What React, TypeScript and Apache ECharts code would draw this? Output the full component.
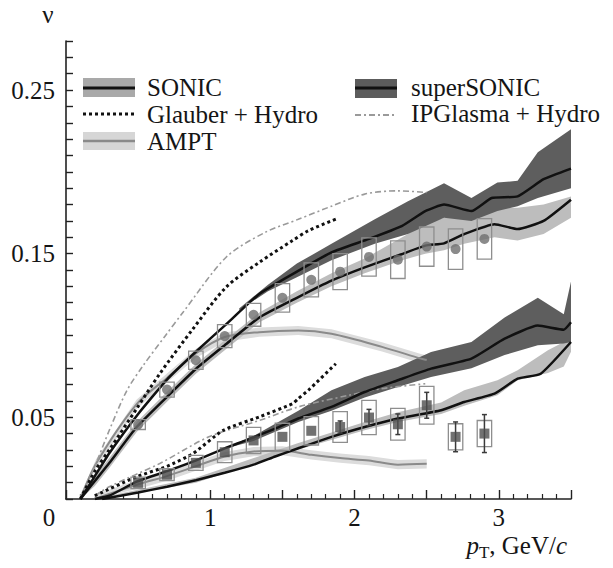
import React, { useEffect, useRef } from "react";
import * as echarts from "echarts";

const FONT = "'Liberation Serif', 'Times New Roman', serif";

// ---- Experimental points ----
const ptData = [0.5, 0.7, 0.9, 1.1, 1.3, 1.5, 1.7, 1.9, 2.1, 2.3, 2.5, 2.7, 2.9];
const v2Data = [0.0455, 0.0669, 0.0848, 0.0996, 0.1126, 0.123, 0.134, 0.139, 0.148, 0.1463, 0.1543, 0.1528, 0.159];
const v2Sys = [0.003, 0.0046, 0.0056, 0.007, 0.007, 0.0087, 0.0104, 0.011, 0.0117, 0.0115, 0.012, 0.0124, 0.0124];
const v3Data = [0.0099, 0.0149, 0.0221, 0.0286, 0.0358, 0.038, 0.0417, 0.044, 0.0498, 0.0457, 0.0573, 0.038, 0.04];
const v3Sys = [0.0035, 0.0036, 0.0046, 0.0064, 0.008, 0.0083, 0.0087, 0.0094, 0.0105, 0.0097, 0.0115, 0.008, 0.008];
const v3Stat = [0, 0, 0, 0, 0, 0, 0, 0.0037, 0.005, 0.0063, 0.0079, 0.0091, 0.0116];

// ---- superSONIC ----
const superV2X = [0.1, 0.2, 0.3, 0.5, 0.7, 0.9, 1.1, 1.34, 1.6, 1.84, 2.1, 2.33, 2.49, 2.62, 2.81, 2.95, 3.13, 3.31, 3.5];
const superV2Y = [0.0, 0.014, 0.028, 0.052, 0.073, 0.09, 0.106, 0.1254, 0.139, 0.1508, 0.159, 0.167, 0.176, 0.18, 0.176, 0.184, 0.185, 0.1955, 0.202];
const superV2BandX = [1.2, 1.4, 1.6, 1.84, 2.14, 2.37, 2.62, 2.81, 2.99, 3.13, 3.27, 3.5];
const superV2BandLo = [0.1155, 0.127, 0.1356, 0.146, 0.156, 0.162, 0.172, 0.17, 0.176, 0.179, 0.184, 0.19];
const superV2BandHi = [0.1165, 0.131, 0.1439, 0.156, 0.171, 0.182, 0.193, 0.184, 0.1935, 0.1945, 0.212, 0.226];

const superV3X = [0.2, 0.3, 0.49, 0.7, 0.88, 1.1, 1.25, 1.45, 1.61, 1.84, 2.07, 2.3, 2.53, 2.81, 3.04, 3.27, 3.45, 3.5];
const superV3Y = [0.0, 0.002, 0.0106, 0.017, 0.0228, 0.031, 0.036, 0.043, 0.0492, 0.0563, 0.0654, 0.0726, 0.0797, 0.0858, 0.098, 0.106, 0.1035, 0.108];
const superV3BandX = [1.15, 1.3, 1.61, 1.84, 2.07, 2.3, 2.53, 2.81, 3.04, 3.27, 3.45, 3.5];
const superV3BandLo = [0.032, 0.0355, 0.047, 0.054, 0.062, 0.0685, 0.0746, 0.08, 0.088, 0.094, 0.095, 0.096];
const superV3BandHi = [0.033, 0.0385, 0.054, 0.0665, 0.0746, 0.0807, 0.0898, 0.096, 0.111, 0.123, 0.113, 0.133];

// ---- SONIC ----
const sonicV2X = [0.1, 0.2, 0.3, 0.49, 0.7, 0.9, 1.1, 1.34, 1.6, 1.84, 2.07, 2.33, 2.49, 2.62, 2.76, 2.97, 3.13, 3.31, 3.5];
const sonicV2Y = [0.0, 0.011, 0.022, 0.044, 0.0625, 0.0795, 0.094, 0.111, 0.123, 0.1335, 0.1416, 0.1498, 0.1549, 0.1563, 0.162, 0.168, 0.165, 0.17, 0.183];
const sonicV2BandLo = [0.0, 0.008, 0.019, 0.041, 0.0595, 0.0765, 0.091, 0.108, 0.12, 0.13, 0.138, 0.146, 0.15, 0.152, 0.156, 0.16, 0.158, 0.162, 0.172];
const sonicV2BandHi = [0.001, 0.014, 0.025, 0.047, 0.0655, 0.0825, 0.097, 0.114, 0.127, 0.138, 0.147, 0.16, 0.168, 0.172, 0.175, 0.178, 0.178, 0.18, 0.185];

const sonicV3X = [0.25, 0.5, 0.7, 0.9, 1.1, 1.3, 1.45, 1.61, 1.84, 2.07, 2.3, 2.6, 2.76, 2.97, 3.13, 3.29, 3.5];
const sonicV3Y = [0.0, 0.004, 0.0075, 0.0115, 0.016, 0.021, 0.026, 0.031, 0.038, 0.044, 0.0492, 0.0543, 0.0593, 0.0644, 0.0736, 0.0766, 0.096];
const sonicV3BandX = [0.25, 0.9, 1.6, 2.07, 2.3, 2.6, 2.76, 2.99, 3.13, 3.34, 3.45, 3.5];
const sonicV3BandLo = [0.0, 0.01, 0.03, 0.042, 0.047, 0.052, 0.057, 0.0634, 0.0726, 0.077, 0.081, 0.09];
const sonicV3BandHi = [0.001, 0.013, 0.034, 0.047, 0.053, 0.059, 0.0665, 0.0726, 0.0787, 0.091, 0.096, 0.1];

// ---- Glauber + Hydro ----
const glauberV2X = [0.1, 0.2, 0.3, 0.49, 0.65, 0.88, 1.11, 1.34, 1.57, 1.68, 1.87];
const glauberV2Y = [0.0, 0.017, 0.03, 0.0553, 0.0766, 0.104, 0.1295, 0.1447, 0.158, 0.164, 0.1711];
const glauberV3X = [0.2, 0.49, 0.7, 0.88, 1.09, 1.34, 1.57, 1.61, 1.68, 1.87];
const glauberV3Y = [0.002, 0.0136, 0.02, 0.0278, 0.042, 0.0502, 0.0583, 0.0614, 0.0665, 0.0827];

// ---- IPGlasma + Hydro ----
const ipgV2X = [0.1, 0.2, 0.3, 0.42, 0.53, 0.69, 0.81, 1.11, 1.38, 1.61, 1.84, 2.07, 2.3, 2.5];
const ipgV2Y = [0.0, 0.02, 0.042, 0.066, 0.081, 0.1, 0.114, 0.1478, 0.163, 0.171, 0.179, 0.1864, 0.1884, 0.1874];
const ipgV3X = [0.2, 0.3, 0.65, 0.99, 1.34, 1.61, 1.96, 2.19, 2.49];
const ipgV3Y = [0.002, 0.0075, 0.0217, 0.038, 0.048, 0.0563, 0.0634, 0.0675, 0.0705];

// ---- AMPT ----
const amptV2X = [0.1, 0.21, 0.49, 0.7, 0.9, 1.1, 1.34, 1.61, 1.84, 2.19, 2.46, 2.5];
const amptV2Y = [0.0, 0.0218, 0.058, 0.074, 0.089, 0.099, 0.102, 0.103, 0.101, 0.093, 0.0858, 0.085];
const amptV3X = [0.2, 0.5, 0.7, 0.9, 1.1, 1.3, 1.5, 1.7, 1.9, 2.1, 2.3, 2.5];
const amptV3Y = [0.0, 0.009, 0.014, 0.02, 0.026, 0.029, 0.0295, 0.027, 0.025, 0.0235, 0.021, 0.0215];
const amptBandHalf = 0.0028;

// ---- Axis ticks ----
const yLabelTicks = [0.05, 0.15, 0.25];
const xLabelTicks = [0, 1, 2, 3];

const legendItems = ["SONIC", "Glauber + Hydro", "AMPT", "superSONIC", "IPGlasma + Hydro"];

const zip = (xs: number[], ys: number[]) => xs.map((x, i) => [x, ys[i]]);

function bandSeries(xs: number[], lo: number[], hi: number[], color: string, z: number) {
  return {
    type: "custom",
    silent: true,
    z,
    clip: true,
    data: [[xs[0], lo[0]]],
    encode: { x: 0, y: 1 },
    renderItem: (_params: any, api: any) => {
      const pts: number[][] = [];
      for (let i = 0; i < xs.length; i++) pts.push(api.coord([xs[i], hi[i]]));
      for (let i = xs.length - 1; i >= 0; i--) pts.push(api.coord([xs[i], lo[i]]));
      return { type: "polygon", shape: { points: pts }, style: { fill: color } };
    },
  };
}

function lineSeries(name: string, xs: number[], ys: number[], style: any, z: number, smooth = 0) {
  return {
    type: "line",
    name,
    z,
    data: zip(xs, ys),
    showSymbol: false,
    smooth,
    silent: true,
    lineStyle: style,
  };
}

function boxSeries(xs: number[], ys: number[], sys: number[]) {
  return {
    type: "custom",
    silent: true,
    z: 6,
    data: xs.map((x, i) => [x, ys[i], sys[i]]),
    encode: { x: 0, y: 1 },
    renderItem: (_params: any, api: any) => {
      const x = api.value(0);
      const y = api.value(1);
      const s = api.value(2);
      const a = api.coord([x - 0.05, y + s]);
      const b = api.coord([x + 0.05, y - s]);
      return {
        type: "rect",
        shape: { x: a[0], y: a[1], width: b[0] - a[0], height: b[1] - a[1] },
        style: { fill: "none", stroke: "#8e8e8e", lineWidth: 1.3 },
      };
    },
  };
}

function errorSeries(xs: number[], ys: number[], err: number[]) {
  return {
    type: "custom",
    silent: true,
    z: 7,
    data: xs.map((x, i) => [x, ys[i], err[i]]).filter((d) => d[2] > 0),
    encode: { x: 0, y: 1 },
    renderItem: (_params: any, api: any) => {
      const x = api.value(0);
      const y = api.value(1);
      const e = api.value(2);
      const t = api.coord([x, y + e]);
      const b = api.coord([x, y - e]);
      const st = { stroke: "#3a3a3a", lineWidth: 1.5 };
      return {
        type: "group",
        children: [
          { type: "line", shape: { x1: t[0], y1: t[1], x2: b[0], y2: b[1] }, style: st },
          { type: "line", shape: { x1: t[0] - 2.5, y1: t[1], x2: t[0] + 2.5, y2: t[1] }, style: st },
          { type: "line", shape: { x1: b[0] - 2.5, y1: b[1], x2: b[0] + 2.5, y2: b[1] }, style: st },
        ],
      };
    },
  };
}

export default function App() {
  const ref = useRef<HTMLDivElement>(null);

  useEffect(() => {
    document.body.style.margin = "0";
    const chart = echarts.init(ref.current!, null, { renderer: "svg" });
    const FS = 25;
    const txt = { fontFamily: FONT, fontSize: FS, color: "#151515" };
    const black = "#111";
    const font = `${FS}px ${FONT}`;

    const option: any = {
      animation: false,
      backgroundColor: "#fff",
      grid: { left: 66, right: 42, top: 41, bottom: 69, containLabel: false },
      xAxis: {
        type: "value",
        min: 0,
        max: 3.5,
        interval: 0.5,
        splitLine: { show: false },
        axisLine: { lineStyle: { color: "#222", width: 1.6 } },
        axisTick: { inside: true, length: 9, lineStyle: { color: "#222", width: 1.4 } },
        minorTick: { show: true, splitNumber: 5, length: 5, lineStyle: { color: "#222", width: 1.2 } },
        axisLabel: {
          ...txt,
          margin: 6,
          formatter: (v: number) => {
            if (Math.abs(v) < 1e-9) return "{o|0}";
            const r = Math.round(v);
            return Math.abs(v - r) < 1e-6 && xLabelTicks.includes(r) ? String(r) : "";
          },
          rich: { o: { ...txt, padding: [0, 34, 0, 0] } },
        },
        name: "{i|p}{s|T}{n|, GeV/}{i|c}",
        nameLocation: "end",
        nameGap: -4,
        nameTextStyle: {
          ...txt,
          align: "right",
          verticalAlign: "top",
          padding: [31, 0, 0, 0],
          rich: {
            i: { ...txt, fontStyle: "italic" },
            s: { ...txt, fontSize: 17, padding: [14, 0, 0, 0] },
            n: { ...txt },
          },
        },
      },
      yAxis: {
        type: "value",
        min: 0,
        max: 0.28,
        interval: 0.01,
        splitLine: { show: false },
        axisLine: { show: true, lineStyle: { color: "#222", width: 1.6 } },
        axisTick: { show: true, inside: true, length: 7, lineStyle: { color: "#222", width: 1.4 } },
        axisLabel: {
          ...txt,
          margin: 11,
          formatter: (v: number) => {
            const hit = yLabelTicks.find((t) => Math.abs(t - v) < 1e-6);
            return hit !== undefined ? hit.toFixed(2) : "";
          },
        },
        name: "ν",
        nameLocation: "end",
        nameGap: 14,
        nameTextStyle: { ...txt, align: "center", verticalAlign: "bottom", padding: [0, 36, 0, 0] },
      },
      graphic: [
        // SONIC
        { type: "rect", shape: { x: 83, y: 78, width: 52, height: 19 }, style: { fill: "#a9a9a9" } },
        { type: "line", shape: { x1: 83, y1: 88, x2: 135, y2: 88 }, style: { stroke: black, lineWidth: 3 } },
        { type: "text", x: 147, y: 87, style: { text: legendItems[0], font, fill: "#151515", verticalAlign: "middle" } },
        // Glauber
        { type: "line", shape: { x1: 83, y1: 114, x2: 135, y2: 114 }, style: { stroke: black, lineWidth: 3, lineDash: [3, 3] } },
        { type: "text", x: 147, y: 114, style: { text: legendItems[1], font, fill: "#151515", verticalAlign: "middle" } },
        // AMPT
        { type: "rect", shape: { x: 83, y: 132, width: 52, height: 18 }, style: { fill: "#d6d6d6" } },
        { type: "line", shape: { x1: 83, y1: 141, x2: 135, y2: 141 }, style: { stroke: "#8a8a8a", lineWidth: 2.5 } },
        { type: "text", x: 147, y: 141, style: { text: legendItems[2], font, fill: "#151515", verticalAlign: "middle" } },
        // superSONIC
        { type: "rect", shape: { x: 355, y: 79, width: 42, height: 19 }, style: { fill: "#5c5c5c" } },
        { type: "line", shape: { x1: 355, y1: 88, x2: 397, y2: 88 }, style: { stroke: black, lineWidth: 3 } },
        { type: "text", x: 411, y: 87, style: { text: legendItems[3], font, fill: "#151515", verticalAlign: "middle" } },
        // IPGlasma
        { type: "line", shape: { x1: 355, y1: 115, x2: 397, y2: 115 }, style: { stroke: "#9a9a9a", lineWidth: 1.8, lineDash: [6, 3, 2, 3] } },
        { type: "text", x: 411, y: 113, style: { text: legendItems[4], font, fill: "#151515", verticalAlign: "middle" } },
      ],
      series: [
        // bands
        bandSeries(amptV2X, amptV2Y.map((v) => Math.max(0, v - amptBandHalf)), amptV2Y.map((v) => v + amptBandHalf), "#dcdcdc", 1),
        bandSeries(amptV3X, amptV3Y.map((v) => Math.max(0, v - amptBandHalf)), amptV3Y.map((v) => v + amptBandHalf), "#dcdcdc", 1),
        bandSeries(sonicV2X, sonicV2BandLo, sonicV2BandHi, "#bdbdbd", 2),
        bandSeries(sonicV3BandX, sonicV3BandLo, sonicV3BandHi, "#bdbdbd", 2),
        bandSeries(superV2BandX, superV2BandLo, superV2BandHi, "#5e5e5e", 3),
        bandSeries(superV3BandX, superV3BandLo, superV3BandHi, "#5e5e5e", 3),
        // model curves
        lineSeries("AMPT v2", amptV2X, amptV2Y, { color: "#8a8a8a", width: 2 }, 4, 0.3),
        lineSeries("AMPT v3", amptV3X, amptV3Y, { color: "#8a8a8a", width: 2 }, 4, 0.3),
        lineSeries("IPGlasma v2", ipgV2X, ipgV2Y, { color: "#9a9a9a", width: 1.6, type: [6, 3, 2, 3] }, 4, 0.3),
        lineSeries("IPGlasma v3", ipgV3X, ipgV3Y, { color: "#9a9a9a", width: 1.6, type: [6, 3, 2, 3] }, 4, 0.3),
        lineSeries("Glauber v2", glauberV2X, glauberV2Y, { color: black, width: 3, type: [3, 3] }, 5, 0.3),
        lineSeries("Glauber v3", glauberV3X, glauberV3Y, { color: black, width: 3, type: [3, 3] }, 5, 0.2),
        lineSeries("SONIC v2", sonicV2X, sonicV2Y, { color: black, width: 2.5 }, 5, 0.15),
        lineSeries("SONIC v3", sonicV3X, sonicV3Y, { color: black, width: 2.5 }, 5, 0.15),
        lineSeries("superSONIC v2", superV2X, superV2Y, { color: black, width: 2.5 }, 5, 0.15),
        lineSeries("superSONIC v3", superV3X, superV3Y, { color: black, width: 2.5 }, 5, 0.15),
        // data
        boxSeries(ptData, v2Data, v2Sys),
        boxSeries(ptData, v3Data, v3Sys),
        errorSeries(ptData, v3Data, v3Stat),
        {
          type: "scatter",
          z: 8,
          silent: true,
          symbol: "circle",
          symbolSize: 10,
          itemStyle: { color: "#6e6e6e" },
          data: zip(ptData, v2Data),
        },
        {
          type: "scatter",
          z: 8,
          silent: true,
          symbol: "rect",
          symbolSize: 10,
          itemStyle: { color: "#4e4e4e" },
          data: zip(ptData, v3Data),
        },
      ],
    };

    chart.setOption(option);
    return () => chart.dispose();
  }, []);

  return <div ref={ref} style={{ width: 613, height: 568 }} />;
}
